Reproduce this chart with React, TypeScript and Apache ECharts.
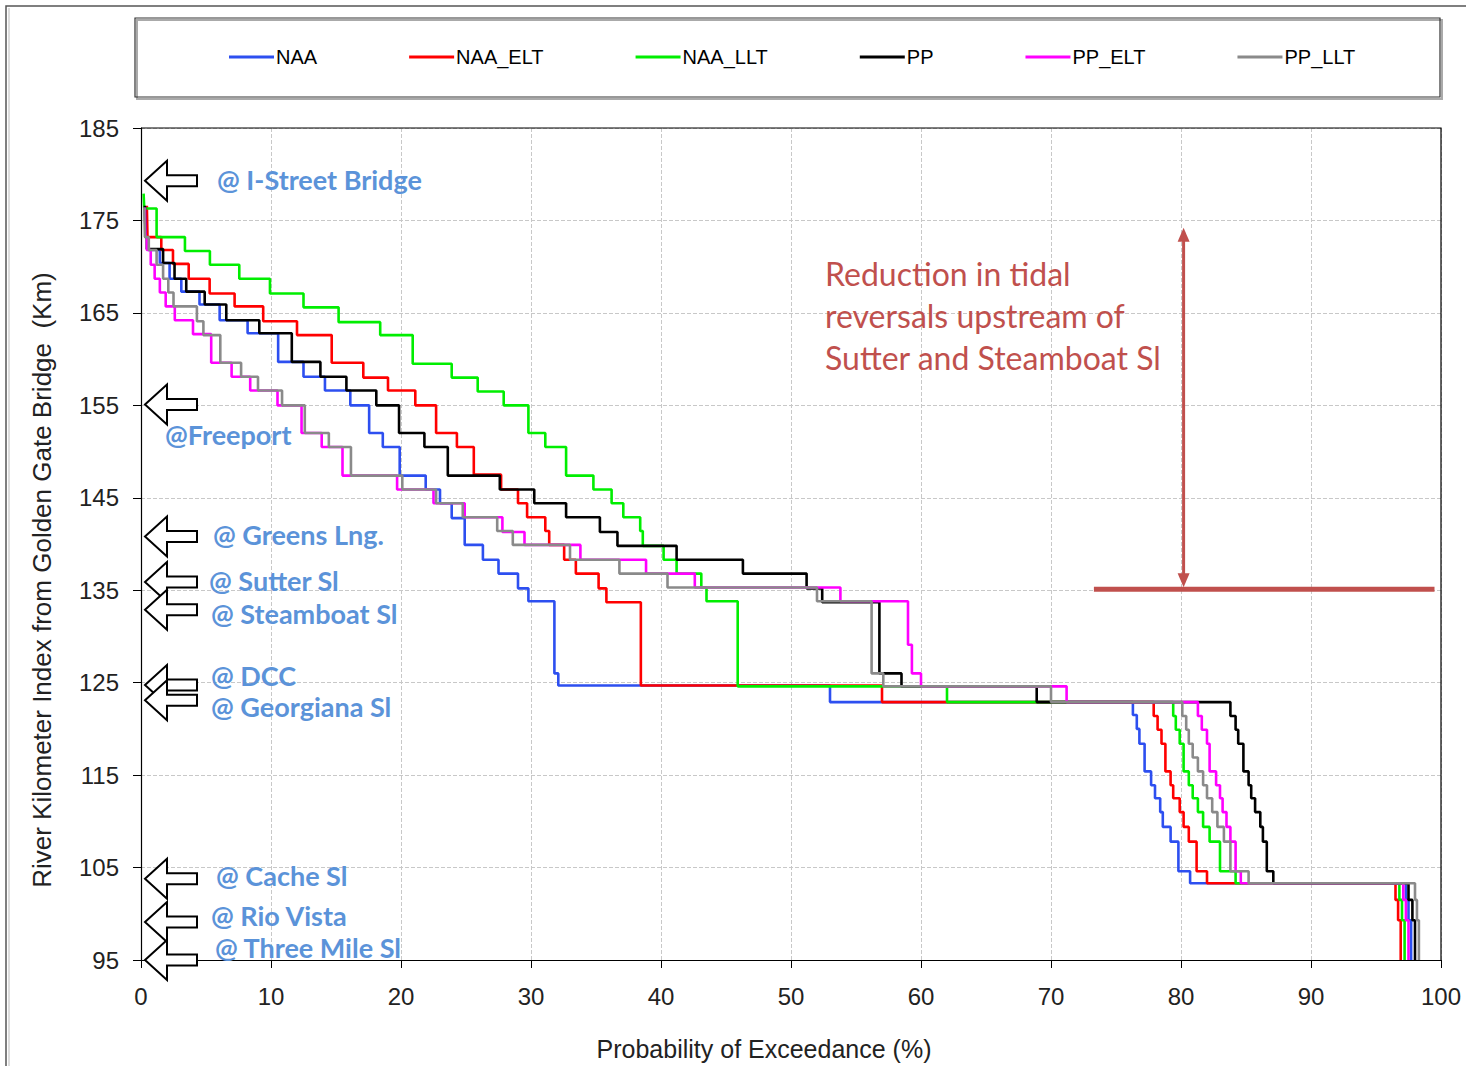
import React, { useEffect, useRef } from 'react';
import * as echarts from 'echarts';

const seriesNames = ['NAA', 'NAA_ELT', 'NAA_LLT', 'PP', 'PP_ELT', 'PP_LLT'];
const seriesColors = ['#2d4ff0', '#ff0000', '#00ee00', '#000000', '#ff00ff', '#8a8a8a'];

const naa: number[][] = [
  [0.3, 176.4], [0.35, 173.2], [0.55, 171.8], [1.45, 170.4], [2.2, 168.7], [3.1, 167.3], [4.5, 165.9],
  [6.05, 164.2], [8.2, 162.8], [10.55, 159.7], [12.5, 158.1], [14.15, 156.6], [16.1, 155.0], [17.55, 152.0],
  [18.6, 150.5], [19.9, 147.4], [21.9, 145.9], [23.0, 144.4], [23.9, 142.8], [24.9, 139.9], [26.3, 138.3],
  [27.5, 136.8], [29.0, 135.2], [29.8, 133.8], [31.8, 126.0], [32.1, 124.7], [53.0, 122.9], [76.3, 121.5],
  [76.6, 120.0], [76.8, 118.4], [77.2, 115.4], [77.7, 113.9], [78.0, 112.5], [78.4, 111.0], [78.6, 109.4],
  [79.2, 107.8], [79.8, 104.6], [80.7, 103.3], [97.3, 101.5], [97.5, 99.3], [97.7, 95],
];
const naaElt: number[][] = [
  [0.45, 176.6], [0.5, 173.2], [1.56, 171.8], [2.46, 170.3], [3.67, 168.7], [5.28, 167.1], [7.2, 165.7],
  [9.4, 164.1], [12.0, 162.6], [14.67, 159.6], [17.1, 158.0], [19.0, 156.6], [21.1, 155.0], [22.7, 152.0],
  [24.3, 150.5], [25.6, 147.5], [27.7, 145.9], [29.0, 144.4], [29.7, 142.9], [31.1, 141.4], [31.4, 139.9],
  [32.55, 138.3], [33.45, 136.8], [35.2, 135.2], [35.8, 133.7], [38.45, 124.7], [57.0, 122.9], [77.9, 121.4],
  [78.2, 119.9], [78.5, 118.4], [78.8, 115.4], [79.2, 113.9], [79.4, 112.5], [79.9, 111.0], [80.2, 109.4],
  [80.6, 107.8], [81.2, 104.6], [82.0, 103.3], [96.5, 101.5], [96.7, 99.3], [96.9, 95],
];
const naaLlt: number[][] = [
  [0.2, 177.9], [0.25, 176.3], [1.2, 173.2], [3.38, 171.7], [5.3, 170.2], [7.56, 168.7], [9.92, 167.1],
  [12.5, 165.6], [15.2, 164.0], [18.4, 162.6], [20.9, 159.5], [23.9, 158.0], [25.9, 156.5], [27.9, 155.0],
  [29.8, 152.0], [31.1, 150.5], [32.7, 147.4], [34.8, 145.9], [36.2, 144.4], [37.1, 142.9], [38.4, 141.4],
  [38.6, 139.8], [40.2, 138.3], [41.2, 136.8], [43.1, 135.3], [43.5, 133.8], [45.9, 124.6], [62.0, 122.9],
  [79.4, 121.4], [79.6, 119.9], [79.9, 118.4], [80.2, 115.4], [80.6, 113.9], [80.9, 112.5], [81.3, 111.0],
  [81.7, 109.4], [82.2, 107.8], [83.0, 104.6], [84.2, 103.3], [96.8, 101.5], [97.0, 99.3], [97.2, 95],
];
const pp: number[][] = [
  [0.3, 176.6], [0.35, 173.2], [0.45, 171.9], [1.7, 170.4], [2.58, 168.7], [3.48, 167.3], [4.9, 165.9],
  [6.56, 164.2], [9.1, 162.8], [11.6, 159.7], [13.8, 158.1], [15.8, 156.6], [18.1, 155.0], [19.85, 152.0],
  [21.8, 150.5], [23.6, 147.4], [27.6, 145.9], [30.25, 144.4], [32.7, 142.9], [35.3, 141.3], [36.65, 139.8],
  [41.2, 138.3], [46.3, 136.8], [51.2, 135.2], [52.4, 133.7], [56.8, 126.0], [58.5, 124.6], [68.9, 122.9],
  [83.8, 121.4], [84.2, 119.9], [84.4, 118.4], [84.8, 115.4], [85.2, 113.9], [85.4, 112.5], [85.7, 111.0],
  [86.1, 109.4], [86.3, 107.8], [86.6, 104.6], [87.1, 103.3], [97.5, 101.5], [97.8, 99.3], [98.0, 95],
];
const ppElt: number[][] = [
  [0.3, 176.4], [0.35, 173.2], [0.45, 171.8], [0.75, 170.2], [1.05, 168.7], [1.45, 167.2], [1.9, 165.7],
  [2.6, 164.2], [4.0, 162.7], [5.4, 159.6], [6.97, 158.1], [8.4, 156.6], [10.5, 155.0], [12.35, 152.0],
  [13.9, 150.5], [15.5, 147.4], [19.7, 145.9], [22.5, 144.4], [24.9, 142.9], [27.8, 141.3], [29.5, 139.9],
  [33.8, 138.3], [38.85, 136.8], [42.6, 135.3], [53.8, 133.8], [59.0, 129.1], [59.3, 126.0], [60.0, 124.6],
  [71.2, 122.9], [81.3, 121.4], [81.6, 119.9], [82.0, 118.4], [82.2, 115.4], [82.7, 113.9], [83.0, 112.5],
  [83.2, 111.0], [83.5, 109.4], [83.8, 107.8], [84.2, 104.6], [84.6, 103.3], [97.1, 101.5], [97.3, 99.3], [97.5, 95],
];
const ppLlt: number[][] = [
  [0.25, 176.4], [0.3, 173.2], [0.6, 171.8], [1.2, 170.2], [1.7, 168.7], [2.1, 167.2], [2.5, 165.7],
  [4.3, 164.1], [4.8, 162.6], [6.1, 159.6], [7.7, 158.1], [9.0, 156.6], [10.85, 155.0], [12.6, 152.0],
  [14.45, 150.5], [16.15, 147.4], [20.1, 145.9], [22.7, 144.4], [24.75, 142.9], [27.4, 141.4], [28.6, 139.9],
  [33.0, 138.3], [36.8, 136.8], [40.5, 135.3], [52.0, 133.8], [56.2, 126.0], [57.1, 124.6], [70.0, 122.9],
  [80.1, 121.4], [80.4, 119.9], [80.6, 118.4], [80.9, 116.9], [81.3, 115.4], [81.7, 113.9], [82.0, 112.5],
  [82.4, 111.0], [82.8, 109.4], [83.3, 107.8], [83.8, 104.6], [85.2, 103.3], [98.0, 101.5], [98.15, 99.3], [98.3, 95],
];
const seriesData = [naa, naaElt, naaLlt, pp, ppElt, ppLlt];

// Station arrows along the river (km index) and their labels
const stationNames = ['@ I-Street Bridge', '@Freeport', '@ Greens Lng.', '@ Sutter Sl', '@ Steamboat Sl', '@ DCC', '@ Georgiana Sl', '@ Cache Sl', '@ Rio Vista', '@ Three Mile Sl'];
const stationKm = [179.3, 155.1, 140.8, 135.9, 132.9, 124.75, 123.1, 103.8, 99.1, 95.0];
const stationLabelKm = [179.4, 151.8, 141.0, 136.1, 132.5, 125.8, 122.4, 104.1, 99.8, 96.3];
const stationLabelX = [217, 165, 213, 209, 211, 211, 211, 216, 211, 215];

const noteLines = ['Reduction in tidal', 'reversals upstream of', 'Sutter and Steamboat Sl'];
const noteArrowX = 80.2;
const noteArrowKm = [135.1, 174.2];
const noteBaseX = [73.3, 99.5];

export default function App() {
  const ref = useRef<HTMLDivElement>(null);
  useEffect(() => {
    document.body.style.margin = '0';
    const chart = echarts.init(ref.current!, null, { renderer: 'svg' });
    const font = 'Liberation Sans';
    const gl = 141, gt = 128, gw = 1300, gh = 832;
    const option: any = {
      animation: false,
      backgroundColor: '#ffffff',
      grid: { left: gl, top: gt, width: gw, height: gh, show: false },
      legend: {
        data: seriesNames, left: 224, top: 42, itemGap: 92, itemWidth: 45, itemHeight: 3, icon: 'rect',
        selectedMode: false,
        textStyle: { fontFamily: font, fontSize: 20, color: '#000', padding: [0, 0, 0, -3] },
      },
      xAxis: {
        type: 'value', min: 0, max: 100, interval: 10,
        name: 'Probability of Exceedance (%)', nameLocation: 'middle', nameGap: 76,
        nameTextStyle: { fontFamily: font, fontSize: 25, color: '#222', padding: [0, 54, 0, 0] },
        axisLine: { show: true, lineStyle: { color: '#000', width: 1.2 } },
        axisTick: { show: true, length: 8, lineStyle: { color: '#000' } },
        axisLabel: { fontFamily: font, fontSize: 24, color: '#222', margin: 24 },
        splitLine: { show: true, lineStyle: { type: 'dashed', color: '#c8c8c8', width: 1 } },
      },
      yAxis: {
        type: 'value', min: 95, max: 185, interval: 10,
        name: 'River Kilometer Index from Golden Gate Bridge  (Km)', nameLocation: 'middle', nameGap: 86,
        nameTextStyle: { fontFamily: font, fontSize: 26, color: '#222', padding: [0, 72, 0, 0] },
        axisLine: { show: true, lineStyle: { color: '#000', width: 1.2 } },
        axisTick: { show: true, length: 8, lineStyle: { color: '#000' } },
        axisLabel: { fontFamily: font, fontSize: 24, color: '#222', margin: 22 },
        splitLine: { show: true, lineStyle: { type: 'dashed', color: '#c8c8c8', width: 1 } },
      },
      series: seriesNames.map((n, i) => ({
        name: n, type: 'line', step: 'end', data: seriesData[i], showSymbol: false, symbol: 'none',
        color: seriesColors[i], lineStyle: { color: seriesColors[i], width: 2.6 }, z: 3 + i,
      })),
    };
    chart.setOption(option);

    const px = (x: number, y: number) => chart.convertToPixel({ gridIndex: 0 }, [x, y]) as number[];
    const g: any[] = [];
    // outer frame
    g.push({ type: 'rect', shape: { x: 6, y: 6, width: 1480, height: 1090 }, style: { fill: 'none', stroke: '#555', lineWidth: 1.5 }, silent: true });
    g.push({ type: 'line', shape: { x1: 9, y1: 8, x2: 9, y2: 1066 }, style: { stroke: '#bbb', lineWidth: 1 }, silent: true });
    // plot frame (top / right)
    g.push({ type: 'polyline', z: 2, shape: { points: [[gl, gt], [gl + gw, gt], [gl + gw, gt + gh]] }, style: { fill: 'none', stroke: '#000', lineWidth: 1.2 }, silent: true });
    // legend box
    g.push({ type: 'rect', shape: { x: 137, y: 20, width: 1305, height: 79 }, style: { fill: 'none', stroke: '#aaa', lineWidth: 2 }, silent: true });
    g.push({ type: 'rect', shape: { x: 135, y: 18, width: 1305, height: 79 }, style: { fill: 'none', stroke: '#333', lineWidth: 1.2 }, silent: true });

    // station arrows + labels
    stationNames.forEach((name, i) => {
      const cy = px(0, stationKm[i])[1];
      const tx = px(0, 0)[0] + 4;
      g.push({
        type: 'polygon', z: 20,
        shape: { points: [[tx, cy], [tx + 22, cy - 20], [tx + 22, cy - 5.5], [tx + 52, cy - 5.5], [tx + 52, cy + 5.5], [tx + 22, cy + 5.5], [tx + 22, cy + 20]] },
        style: { fill: '#fff', stroke: '#000', lineWidth: 2 },
      });
      const ly = px(0, stationLabelKm[i])[1];
      g.push({
        type: 'text', z: 21, x: stationLabelX[i], y: ly,
        style: { text: name, fill: '#5b93d9', fontFamily: 'Lato', fontWeight: 'bold', fontSize: 27, verticalAlign: 'middle', lineHeight: 27 },
      });
    });

    // red annotation
    const red = '#c0504d';
    const top = px(noteArrowX, noteArrowKm[1]);
    const bot = px(noteArrowX, noteArrowKm[0]);
    const b0 = px(noteBaseX[0], noteArrowKm[0]);
    const b1 = px(noteBaseX[1], noteArrowKm[0]);
    g.push({ type: 'line', z: 20, shape: { x1: b0[0], y1: b0[1], x2: b1[0], y2: b1[1] }, style: { stroke: red, lineWidth: 5 } });
    g.push({ type: 'line', z: 20, shape: { x1: top[0], y1: top[1] + 10, x2: bot[0], y2: bot[1] - 10 }, style: { stroke: red, lineWidth: 3 } });
    g.push({ type: 'polygon', z: 20, shape: { points: [[top[0], top[1]], [top[0] - 6, top[1] + 14], [top[0] + 6, top[1] + 14]] }, style: { fill: red } });
    g.push({ type: 'polygon', z: 20, shape: { points: [[bot[0], bot[1] - 2], [bot[0] - 6, bot[1] - 16], [bot[0] + 6, bot[1] - 16]] }, style: { fill: red } });
    noteLines.forEach((t, i) => {
      g.push({ type: 'text', z: 20, x: 825, y: 273 + i * 42, style: { text: t, fill: red, fontFamily: 'Lato', fontSize: 32, verticalAlign: 'middle' } });
    });

    chart.setOption({ graphic: g });
    return () => chart.dispose();
  }, []);
  return <div ref={ref} style={{ width: 1466, height: 1066 }} />;
}
